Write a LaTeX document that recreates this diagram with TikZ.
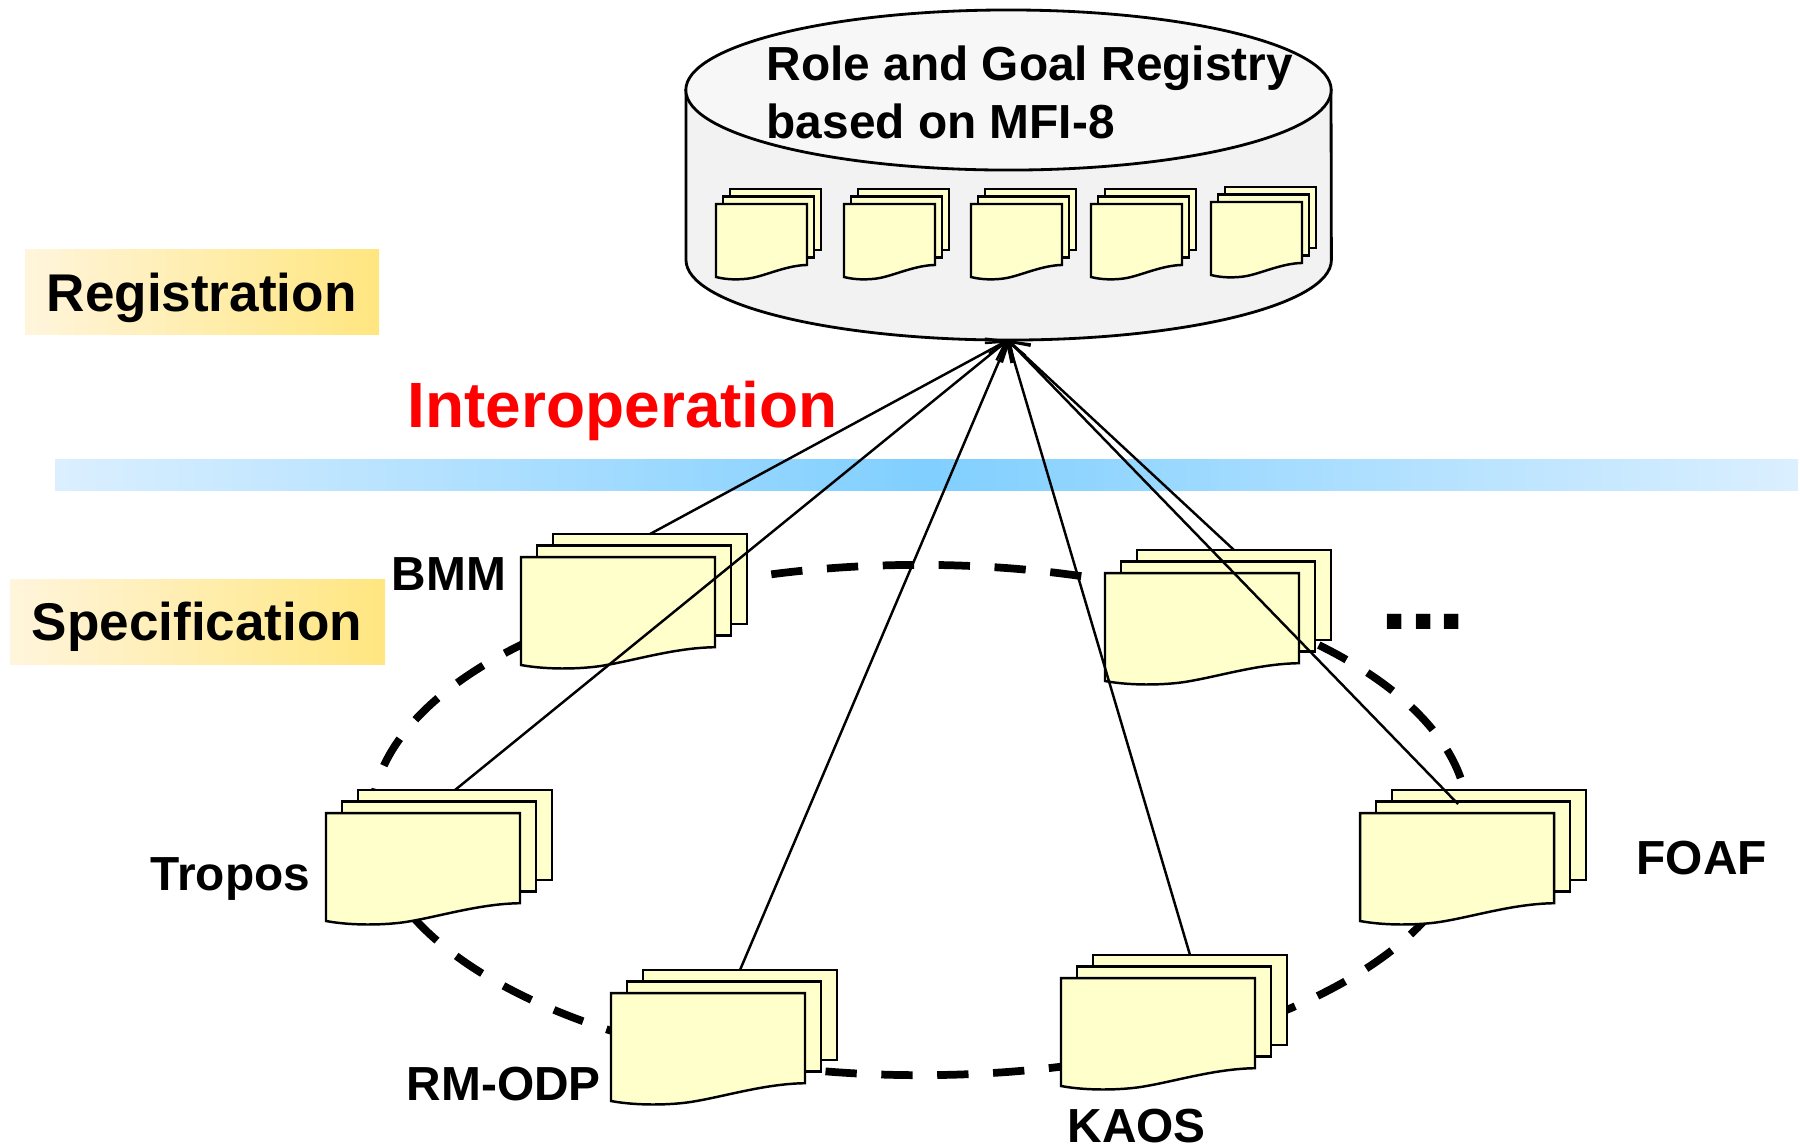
\documentclass[tikz,border=0pt]{standalone}
\usepackage{fontspec}
\setmainfont{Liberation Sans}
\usetikzlibrary{arrows.meta,positioning}
\definecolor{rgsheet}{RGB}{255,255,204}
\definecolor{rgtop}{RGB}{247,247,247}
\definecolor{rgbody}{RGB}{242,242,242}
\definecolor{rgpale}{RGB}{255,245,220}
\definecolor{rggold}{RGB}{255,230,128}
\definecolor{rgsky}{RGB}{128,207,255}
\definecolor{rgmist}{RGB}{219,239,255}
\tikzset{
  sheetline/.style={draw=black,fill=rgsheet,line width=0.7pt},
  band/.style={left color=rgpale,right color=rggold,anchor=north west,inner sep=0pt,outer sep=0pt},
  caption/.style={anchor=base west,inner sep=0pt,font=\fontsize{13.6}{16}\selectfont\bfseries},
  title/.style={anchor=base west,inner sep=0pt,font=\fontsize{15.1}{18}\selectfont\bfseries},
  link/.style={line width=0.7pt,-{Straight Barb[length=5pt,width=7pt]}},
  ring/.style={line width=2.2pt,dash pattern=on 8.9pt off 7pt},
  pics/docstack/.style n args={4}{code={
    \node[sheetline,anchor=north west,inner sep=0pt,outer sep=0pt,
          minimum width=#1*0.01cm,minimum height=0.835*#2*0.01cm] (-back) at (2*#3,-2*#4) {};
    \draw[sheetline] (#3,-#4) rectangle (#3+#1,-#4+0.835*#2);
    \draw[sheetline] (0,0) -- (#1,0) -- (#1,0.835*#2)
      .. controls (0.8*#1,0.84*#2) and (0.6*#1,0.95*#2) .. (0.44*#1,#2)
      .. controls (0.34*#1,1.035*#2) and (0.15*#1,1.05*#2) .. (0,#2) -- cycle;
  }}
}
\begin{document}
\begin{tikzpicture}[x=0.01cm,y=-0.01cm]
  \useasboundingbox (0,0) rectangle (1800,1147);
  % Side labels and the dividing bar
  \node[band,minimum width=3.54cm,minimum height=0.85cm] (regband) at (25,249) {};
  \node[band,minimum width=3.75cm,minimum height=0.85cm] (specband) at (10,579) {};
  \node[title] (reglabel) at (46,311) {Registration};
  \node[title] (speclabel) at (31,640) {Specification};
  \node[anchor=north west,inner sep=0pt,outer sep=0pt,minimum width=17.42cm,minimum height=0.31cm,
        left color=rgmist,right color=rgmist,middle color=rgsky] (bar) at (55,459) {};
  \node[anchor=base west,inner sep=0pt,text=red,font=\fontsize{18.2}{22}\selectfont\bfseries] (interop) at (407,427) {Interoperation};
  % Registry cylinder
  \draw[fill=rgbody,line width=0.8pt] (686,90) -- (686,260)
    arc[start angle=180,end angle=360,x radius=3.225cm,y radius=0.8cm] -- (1331,90) -- cycle;
  \draw[fill=rgtop,line width=0.8pt] (1008.5,90) ellipse (3.225cm and 0.8cm);
  \node[inner sep=0pt,outer sep=0pt,minimum width=6.46cm,minimum height=3.3cm] (registry) at (1008,175) {};
  \node[caption] (regline1) at (766,80) {Role and Goal Registry};
  \node[caption] (regline2) at (766,138) {based on MFI-8};
  % Documents held in the registry
  \foreach \id/\x/\y in {held1/716/204, held2/844/204, held3/971/204, held4/1091/204, held5/1211/202}
    \pic (\id) at (\x,\y) {docstack={91}{73}{7}{7.5}};
  % Dashed ring behind the sources
  \draw[ring,dash phase=3.7pt] (1468,820) arc[start angle=0,end angle=180,x radius=5.48cm,y radius=2.55cm];
  \draw[ring,dash phase=0.5pt] (372,820) arc[start angle=180,end angle=360,x radius=5.48cm,y radius=2.55cm];
  % Source documents
  \foreach \id/\x/\y in {bmm/521/557, extra/1105/573, tropos/326/813, rmodp/611/993, kaos/1061/978, foaf/1360/813}
    \pic (\id) at (\x,\y) {docstack={194}{108}{16}{11.5}};
  \node[caption] (bmmlabel) at (391,590) {BMM};
  \node[caption] (troposlabel) at (150,890) {Tropos};
  \node[caption] (rmodplabel) at (406,1100) {RM-ODP};
  \node[caption] (kaoslabel) at (1067,1142) {KAOS};
  \node[caption] (foaflabel) at (1636,874) {FOAF};
  \node[caption,font=\fontsize{29}{30}\selectfont\bfseries] (dots) at (1380,629) {...};
  % Links up to the registry
  \coordinate (foafend) at (1458,804);
  \foreach \id in {bmm-back.north, tropos-back.north, rmodp-back.north, kaos-back.north, extra-back.north, foafend}
    \draw[link] (\id) -- (registry.south);
\end{tikzpicture}
\end{document}
